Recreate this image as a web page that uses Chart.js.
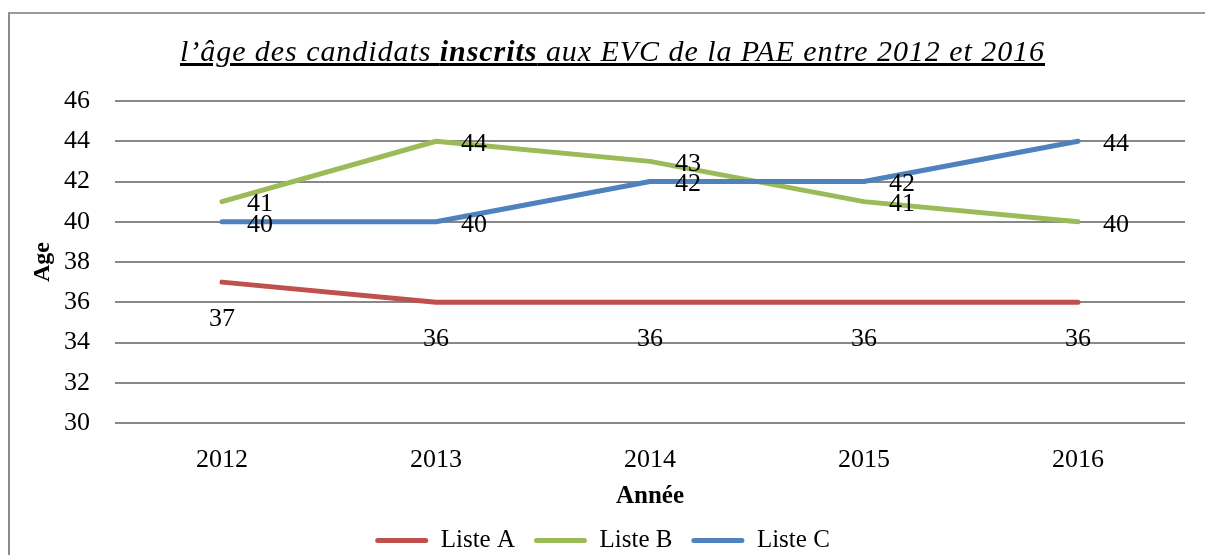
<!DOCTYPE html>
<html><head><meta charset="utf-8">
<script src="https://cdn.jsdelivr.net/npm/chart.js@4/dist/chart.umd.min.js"></script>
<style>
html,body{margin:0;padding:0;background:#fff;width:1205px;height:555px;overflow:hidden;}
#wrap{position:relative;width:1205px;height:555px;}
#frame{position:absolute;left:8px;top:12px;width:1210px;height:560px;border-left:2px solid #8c8c8c;border-top:2px solid #9a9a9a;}
#title{position:absolute;left:10px;top:36px;width:1205px;text-align:center;font-family:"Liberation Serif",serif;font-style:italic;font-size:30px;text-decoration:underline;letter-spacing:0.95px;color:#000;line-height:1;white-space:nowrap;}
canvas{position:absolute;left:0;top:0;}
</style></head>
<body><div id="wrap"><canvas id="c" width="1205" height="555"></canvas><div id="frame"></div><div id="title">l’âge des candidats <b>inscrits</b> aux EVC de la PAE entre 2012 et 2016</div></div>
<script>
const categories = ['2012', '2013', '2014', '2015', '2016'];
const listeA = [37, 36, 36, 36, 36];
const listeB = [41, 44, 43, 41, 40];
const listeC = [40, 40, 42, 42, 44];
const seriesNames = ['Liste A', 'Liste B', 'Liste C'];
const yTitle = 'Age';
const xTitle = 'Année';

const FONT = '"Liberation Serif", "Times New Roman", serif';

const labelPlugin = {
  id: 'pointLabels',
  afterDatasetsDraw(chart) {
    const ctx = chart.ctx;
    ctx.save();
    ctx.font = '26px ' + FONT;
    ctx.fillStyle = '#000';
    ctx.textAlign = 'center';
    ctx.textBaseline = 'middle';
    chart.data.datasets.forEach((ds, i) => {
      const meta = chart.getDatasetMeta(i);
      const off = ds.labelOffset;
      meta.data.forEach((pt, j) => {
        ctx.fillText(String(ds.data[j]), pt.x + off.dx, pt.y + off.dy);
      });
    });
    ctx.restore();
  }
};

function ds(label, data, color, order, off) {
  return {
    label, data, borderColor: color, backgroundColor: color,
    borderWidth: 5, pointRadius: 0, pointHoverRadius: 0, tension: 0,
    borderCapStyle: 'round', borderJoinStyle: 'round', fill: false,
    order, labelOffset: off
  };
}

new Chart(document.getElementById('c'), {
  type: 'line',
  data: {
    labels: categories,
    datasets: [
      ds(seriesNames[0], listeA, '#C0504D', 2, {dx: 0, dy: 37}),
      ds(seriesNames[1], listeB, '#9BBB59', 1, {dx: 38, dy: 3}),
      ds(seriesNames[2], listeC, '#4F81BD', 0, {dx: 38, dy: 3})
    ]
  },
  options: {
    responsive: false,
    animation: false,
    devicePixelRatio: 1,
    layout: { padding: { top: 101, right: 20, left: 20, bottom: -8 } },
    plugins: {
      title: { display: false },
      tooltip: { enabled: false },
      legend: {
        position: 'bottom',
        labels: {
          font: { family: FONT, size: 25 },
          color: '#000',
          boxWidth: 53,
          boxHeight: 5,
          padding: 19,
          useBorderRadius: true,
          borderRadius: 2.5,
          sort: (a, b) => a.datasetIndex - b.datasetIndex,
          generateLabels(chart) {
            const items = Chart.defaults.plugins.legend.labels.generateLabels(chart);
            return items.map(it => Object.assign(it, { lineWidth: 0, fillStyle: it.strokeStyle, borderRadius: 2.5 }));
          }
        }
      }
    },
    scales: {
      x: {
        offset: true,
        grid: { display: false, drawTicks: false },
        border: { display: false },
        ticks: { font: { family: FONT, size: 26 }, color: '#000', padding: 22 },
        title: { display: true, text: xTitle, font: { family: FONT, size: 25, weight: 'bold' }, color: '#000', padding: { top: 0, bottom: -3 } },
        afterFit(scale) { scale.height = 86; }
      },
      y: {
        min: 30, max: 46,
        grid: { color: '#888888', lineWidth: 2, drawTicks: false },
        border: { display: false },
        ticks: { stepSize: 2, font: { family: FONT, size: 26 }, color: '#000', padding: 25 },
        title: { display: true, text: yTitle, font: { family: FONT, size: 24, weight: 'bold' }, color: '#000', padding: { top: 8, bottom: 0 } },
        afterFit(scale) { scale.width = 95; }
      }
    }
  },
  plugins: [labelPlugin]
});
</script>
</body></html>
